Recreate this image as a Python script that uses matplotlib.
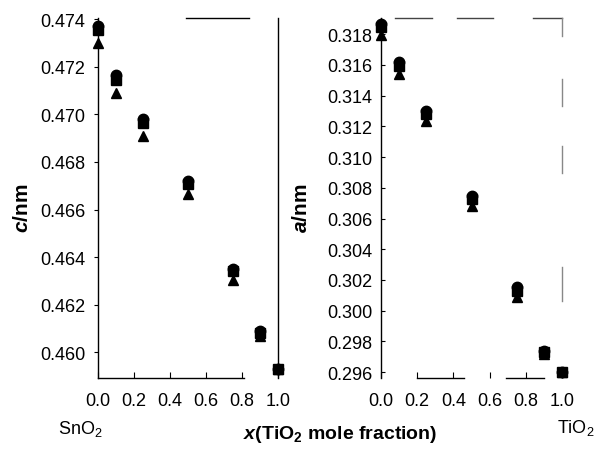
# python3

import matplotlib
matplotlib.use('Agg')
import matplotlib.pyplot as plt

plt.rcParams['font.family'] = ['Liberation Sans', 'DejaVu Sans']
plt.rcParams['mathtext.fontset'] = 'custom'
plt.rcParams['mathtext.default'] = 'regular'
plt.rcParams['mathtext.rm'] = 'Liberation Sans'
plt.rcParams['mathtext.it'] = 'Liberation Sans:italic'
plt.rcParams['mathtext.bf'] = 'Liberation Sans:bold'
plt.rcParams['mathtext.bfit'] = 'Liberation Sans:italic:bold'

# TiO2 mole fraction
x = [0.0, 0.1, 0.25, 0.5, 0.75, 0.9, 1.0]

# lattice parameter c / nm
c_circle = [0.47372, 0.47164, 0.46979, 0.46722, 0.46352, 0.46088, 0.45929]
c_square = [0.47354, 0.47146, 0.46963, 0.46708, 0.46340, 0.46080, 0.45929]
c_triangle = [0.47298, 0.47088, 0.46907, 0.46666, 0.46305, 0.46070, 0.45929]

# lattice parameter a / nm
a_circle = [0.31865, 0.31616, 0.31301, 0.30747, 0.30151, 0.29738, 0.29598]
a_square = [0.31846, 0.31594, 0.31279, 0.30726, 0.30129, 0.29728, 0.29598]
a_triangle = [0.31796, 0.31540, 0.31236, 0.30682, 0.30092, 0.29715, 0.29598]

x_ticks = [0.0, 0.2, 0.4, 0.6, 0.8, 1.0]
c_ticks = [0.460, 0.462, 0.464, 0.466, 0.468, 0.470, 0.472, 0.474]
a_ticks = [0.296, 0.298, 0.300, 0.302, 0.304, 0.306, 0.308, 0.310,
           0.312, 0.314, 0.316, 0.318]


def frame_line(ax, xs, ys, color='black', lw=1.0):
    ax.plot(xs, ys, color=color, lw=lw, transform=ax.transAxes,
            clip_on=False, zorder=1)


def draw_panel(ax, circ, sq, tri, ticks, ylim, ydir):
    ax.plot(x, tri, '^', color='black', ms=7.5, zorder=3, clip_on=False)
    ax.plot(x, sq, 's', color='black', ms=6.5, zorder=4, clip_on=False)
    ax.plot(x, circ, 'o', color='black', ms=7.5, zorder=5, clip_on=False)
    ax.set_xlim(0, 1.0)
    ax.set_ylim(*ylim)
    ax.set_xticks(x_ticks)
    ax.set_xticklabels(['%.1f' % t for t in x_ticks])
    ax.set_yticks(ticks)
    ax.set_yticklabels(['%.3f' % t for t in ticks])
    ax.tick_params(axis='x', direction='in', length=4, width=0.8,
                   pad=10, labelsize=13)
    ax.tick_params(axis='y', direction=ydir, length=3, width=0.8,
                   pad=6, labelsize=13)
    for s in ax.spines.values():
        s.set_visible(False)
    ax.spines['left'].set_visible(True)
    ax.spines['left'].set_linewidth(1.0)


fig = plt.figure(figsize=(5.98, 4.52), dpi=100)

ax1 = fig.add_axes([0.164, 0.1615, 0.301, 0.7965])
draw_panel(ax1, c_circle, c_square, c_triangle, c_ticks, (0.45892, 0.47405), 'out')
frame_line(ax1, [0, 0.81], [0, 0])
frame_line(ax1, [1, 1], [0, 1])
frame_line(ax1, [0.49, 0.84], [1, 1])

ax2 = fig.add_axes([0.637, 0.1615, 0.303, 0.7965])
draw_panel(ax2, a_circle, a_square, a_triangle, a_ticks, (0.29562, 0.31905), 'in')
frame_line(ax2, [0.2, 0.46], [0, 0])
frame_line(ax2, [0.69, 0.9], [0, 0])
frame_line(ax2, [0.077, 0.28], [1, 1], color='#444444')
frame_line(ax2, [0.42, 0.62], [1, 1], color='#444444')
frame_line(ax2, [0.84, 1.0], [1, 1], color='#444444')
for y0, y1 in [(0.95, 1.0), (0.756, 0.83), (0.569, 0.644), (0.214, 0.308)]:
    frame_line(ax2, [1, 1], [y0, y1], color='#888888')

fig.text(0.038, 0.54, r'$\mathbfit{c}$/nm', rotation=90, fontsize=15,
         fontweight='bold', ha='center', va='center')
fig.text(0.505, 0.54, r'$\mathbfit{a}$/nm', rotation=90, fontsize=15,
         fontweight='bold', ha='center', va='center')
fig.text(0.569, 0.038, r'$\mathbfit{x}$(TiO$_2$ mole fraction)', fontsize=14,
         fontweight='bold', ha='center', va='center')
fig.text(0.135, 0.051, r'SnO$_2$', fontsize=13, ha='center', va='center')
fig.text(0.963, 0.053, r'TiO$_2$', fontsize=13, ha='center', va='center')

fig.savefig('out.png', dpi=100)
